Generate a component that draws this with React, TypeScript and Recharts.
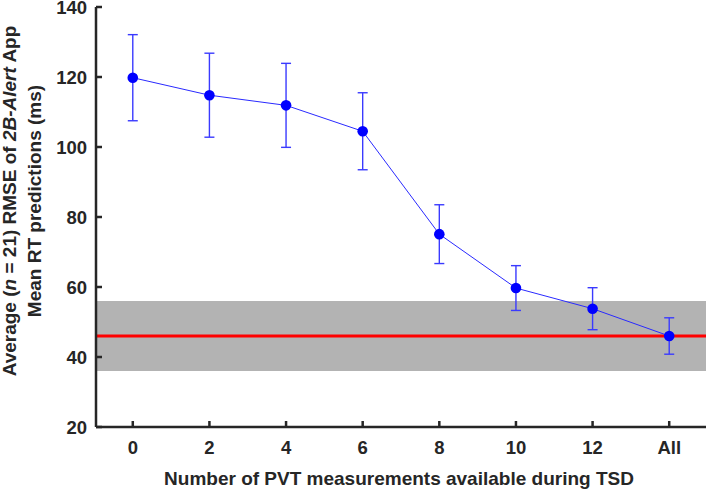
import React from 'react';
import { ComposedChart, Line, XAxis, YAxis, ErrorBar, ReferenceArea, ReferenceLine } from 'recharts';

const categories = ['0', '2', '4', '6', '8', '10', '12', 'All'];
const rmseMeans = [119.8, 114.8, 111.9, 104.5, 75.1, 59.7, 53.8, 46.0];
const rmseErrors = [12.3, 12.0, 12.0, 11.0, 8.4, 6.4, 6.0, 5.2];
const yTicks = [20, 40, 60, 80, 100, 120, 140];
const baselineMean = 46;
const baselineLow = 36;
const baselineHigh = 56;

const data = categories.map((c, i) => ({ idx: i, label: c, rmse: rmseMeans[i], err: rmseErrors[i] }));
const xTicks = categories.map((_, i) => i);

const INK = '#262626';
const FONT = '"Liberation Sans", Arial, sans-serif';
const TICK_LEN = 6;

const BottomTick = ({ x, y, payload }: any) => (
    <g>
        <line x1={x} y1={y} x2={x} y2={y - TICK_LEN} stroke={INK} strokeWidth={2.5} />
        <text x={x} y={y + 27} textAnchor="middle" fill={INK} fontSize={18.5} fontWeight="bold" fontFamily={FONT}>
            {categories[payload.value]}
        </text>
    </g>
);

const TopTick = ({ x, y }: any) => (
    <line x1={x} y1={y} x2={x} y2={y + TICK_LEN} stroke={INK} strokeWidth={2.5} />
);

const LeftTick = ({ x, y, payload }: any) => (
    <g>
        <line x1={x} y1={y} x2={x + TICK_LEN} y2={y} stroke={INK} strokeWidth={2.5} />
        <text x={x - 9} y={y + 6.5} textAnchor="end" fill={INK} fontSize={18.5} fontWeight="bold" fontFamily={FONT}>
            {payload.value}
        </text>
    </g>
);

const RightTick = ({ x, y }: any) => (
    <line x1={x} y1={y} x2={x - TICK_LEN} y2={y} stroke={INK} strokeWidth={2.5} />
);

const YTitle = () => (
    <g fill={INK} fontSize={19} fontWeight="bold" fontFamily={FONT}>
        <text transform="translate(16,201) rotate(-90)" textAnchor="middle">
            Average (<tspan fontStyle="italic">n</tspan> = 21) RMSE of <tspan fontStyle="italic">2B-Alert</tspan> App
        </text>
        <text transform="translate(41,201) rotate(-90)" textAnchor="middle">
            Mean RT predictions (ms)
        </text>
    </g>
);

const XTitle = () => (
    <text x={399} y={485} textAnchor="middle" fill={INK} fontSize={19} fontWeight="bold" fontFamily={FONT}>
        Number of PVT measurements available during TSD
    </text>
);

export default function App() {
    return (
        <div style={{ position: 'absolute', left: 0, top: 0, background: '#fff' }}>
            <ComposedChart width={709} height={490} data={data} margin={{ top: 7, right: 3, bottom: 0, left: 0 }}>
                <XAxis
                    dataKey="idx"
                    type="number"
                    domain={[-0.48, 7.48]}
                    ticks={xTicks}
                    interval={0}
                    height={63}
                    axisLine={{ stroke: INK, strokeWidth: 2.5 }}
                    tickLine={false}
                    tickSize={0}
                    tickMargin={0}
                    tick={<BottomTick />}
                    label={{ content: () => <XTitle /> }}
                />
                <XAxis
                    xAxisId="top"
                    orientation="top"
                    dataKey="idx"
                    type="number"
                    domain={[-0.48, 7.48]}
                    ticks={xTicks}
                    interval={0}
                    height={0}
                    axisLine={{ stroke: INK, strokeWidth: 2.5 }}
                    tickLine={false}
                    tickSize={0}
                    tickMargin={0}
                    tick={<TopTick />}
                />
                <YAxis
                    type="number"
                    domain={[20, 140]}
                    ticks={yTicks}
                    interval={0}
                    width={96}
                    axisLine={{ stroke: INK, strokeWidth: 2.5 }}
                    tickLine={false}
                    tickSize={0}
                    tickMargin={0}
                    tick={<LeftTick />}
                    label={{ content: () => <YTitle /> }}
                />
                <YAxis
                    yAxisId="right"
                    orientation="right"
                    type="number"
                    domain={[20, 140]}
                    ticks={yTicks}
                    interval={0}
                    width={0}
                    axisLine={{ stroke: INK, strokeWidth: 2.5 }}
                    tickLine={false}
                    tickSize={0}
                    tickMargin={0}
                    tick={<RightTick />}
                />
                <ReferenceArea y1={baselineLow} y2={baselineHigh} fill="#b3b3b3" fillOpacity={1} stroke="none" />
                <ReferenceLine y={baselineMean} stroke="#ff0000" strokeWidth={3} />
                <Line
                    dataKey="rmse"
                    stroke="#2a2aff"
                    strokeWidth={1}
                    dot={{ r: 5.3, fill: '#0000ff', stroke: '#0000ff', strokeWidth: 0 }}
                    activeDot={false}
                    isAnimationActive={false}
                >
                    <ErrorBar dataKey="err" direction="y" width={5} stroke="#3a3aff" strokeWidth={1.4} />
                </Line>
            </ComposedChart>
        </div>
    );
}
